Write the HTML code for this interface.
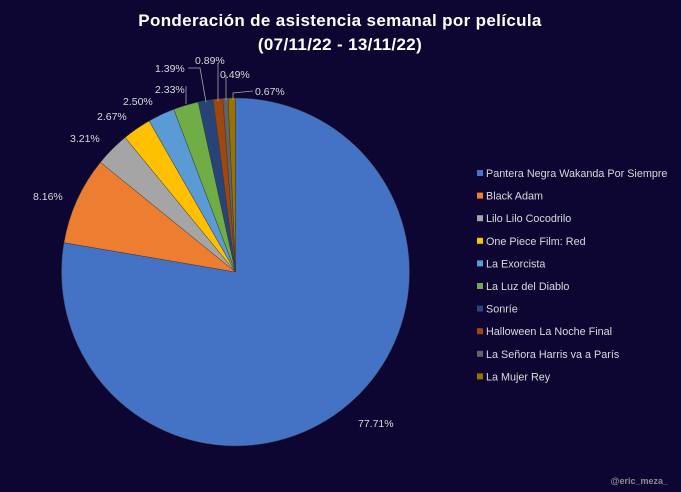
<!DOCTYPE html>
<html><head><meta charset="utf-8"><style>
html,body{margin:0;padding:0;background:#0e0632;}
svg{display:block;font-family:"Liberation Sans",sans-serif;}
</style></head><body>
<svg id="s" width="681" height="492" viewBox="0 0 681 492">
<rect width="681" height="492" fill="#0e0632"/>
<text x="340" y="26" text-anchor="middle" fill="#fff" font-size="17" font-weight="bold" letter-spacing="0.35">Ponderación de asistencia semanal por película</text>
<text x="340" y="50" text-anchor="middle" fill="#fff" font-size="17" font-weight="bold" letter-spacing="0.35">(07/11/22 - 13/11/22)</text>
<g id="pie"></g>
<g fill="#d9d9d9" font-size="10.5">
<text x="358" y="427">77.71%</text>
<text x="33" y="200">8.16%</text>
<text x="70" y="142">3.21%</text>
<text x="97" y="120">2.67%</text>
<text x="123" y="105">2.50%</text>
<text x="155" y="93">2.33%</text>
<text x="155" y="72">1.39%</text>
<text x="195" y="64">0.89%</text>
<text x="220" y="78">0.49%</text>
<text x="255" y="95">0.67%</text>
</g>
<g stroke="#a6a6a6" stroke-width="0.8" fill="none">
<polyline points="188,68 200,68 206,102"/>
<polyline points="218,64 218,101"/>
<polyline points="226,75 226,100"/>
<polyline points="253,91 233,93 233,100"/>
<polyline points="186,86 186,104"/>
</g>
<g id="leg" font-size="10.8" fill="#d9d9d9"></g>
<text x="668" y="484" text-anchor="end" fill="#8c8c8c" font-size="9" font-weight="bold">@eric_meza_</text>
</svg>
<script>
var d=[["Pantera Negra Wakanda Por Siempre",77.71,"#4472C4"],["Black Adam",8.16,"#ED7D31"],["Lilo Lilo Cocodrilo",3.21,"#A5A5A5"],["One Piece Film: Red",2.67,"#FFC000"],["La Exorcista",2.50,"#5B9BD5"],["La Luz del Diablo",2.33,"#70AD47"],["Sonríe",1.39,"#264478"],["Halloween La Noche Final",0.89,"#9E480E"],["La Señora Harris va a París",0.49,"#636363"],["La Mujer Rey",0.67,"#997300"]];
var tot=0;d.forEach(function(e){tot+=e[1];});
var cx=235.5,cy=272,r=174,a=0,ns="http://www.w3.org/2000/svg";
var pie=document.getElementById("pie"),leg=document.getElementById("leg");
d.forEach(function(e,i){
 var a2=a+e[1]/tot*2*Math.PI;
 var x1=cx+r*Math.sin(a),y1=cy-r*Math.cos(a),x2=cx+r*Math.sin(a2),y2=cy-r*Math.cos(a2);
 var p=document.createElementNS(ns,"path");
 p.setAttribute("d","M"+cx+","+cy+"L"+x1+","+y1+"A"+r+","+r+" 0 "+((a2-a)>Math.PI?1:0)+" 1 "+x2+","+y2+"Z");
 p.setAttribute("fill",e[2]);p.setAttribute("stroke","#3a3a3a");p.setAttribute("stroke-width","0.5");
 pie.appendChild(p);a=a2;
 var y=173+i*22.6;
 var m=document.createElementNS(ns,"rect");m.setAttribute("x",477);m.setAttribute("y",y-3);m.setAttribute("width",6);m.setAttribute("height",6);m.setAttribute("fill",e[2]);leg.appendChild(m);
 var t=document.createElementNS(ns,"text");t.setAttribute("x",486);t.setAttribute("y",y+4);t.textContent=e[0];leg.appendChild(t);
});
</script>
</body></html>
